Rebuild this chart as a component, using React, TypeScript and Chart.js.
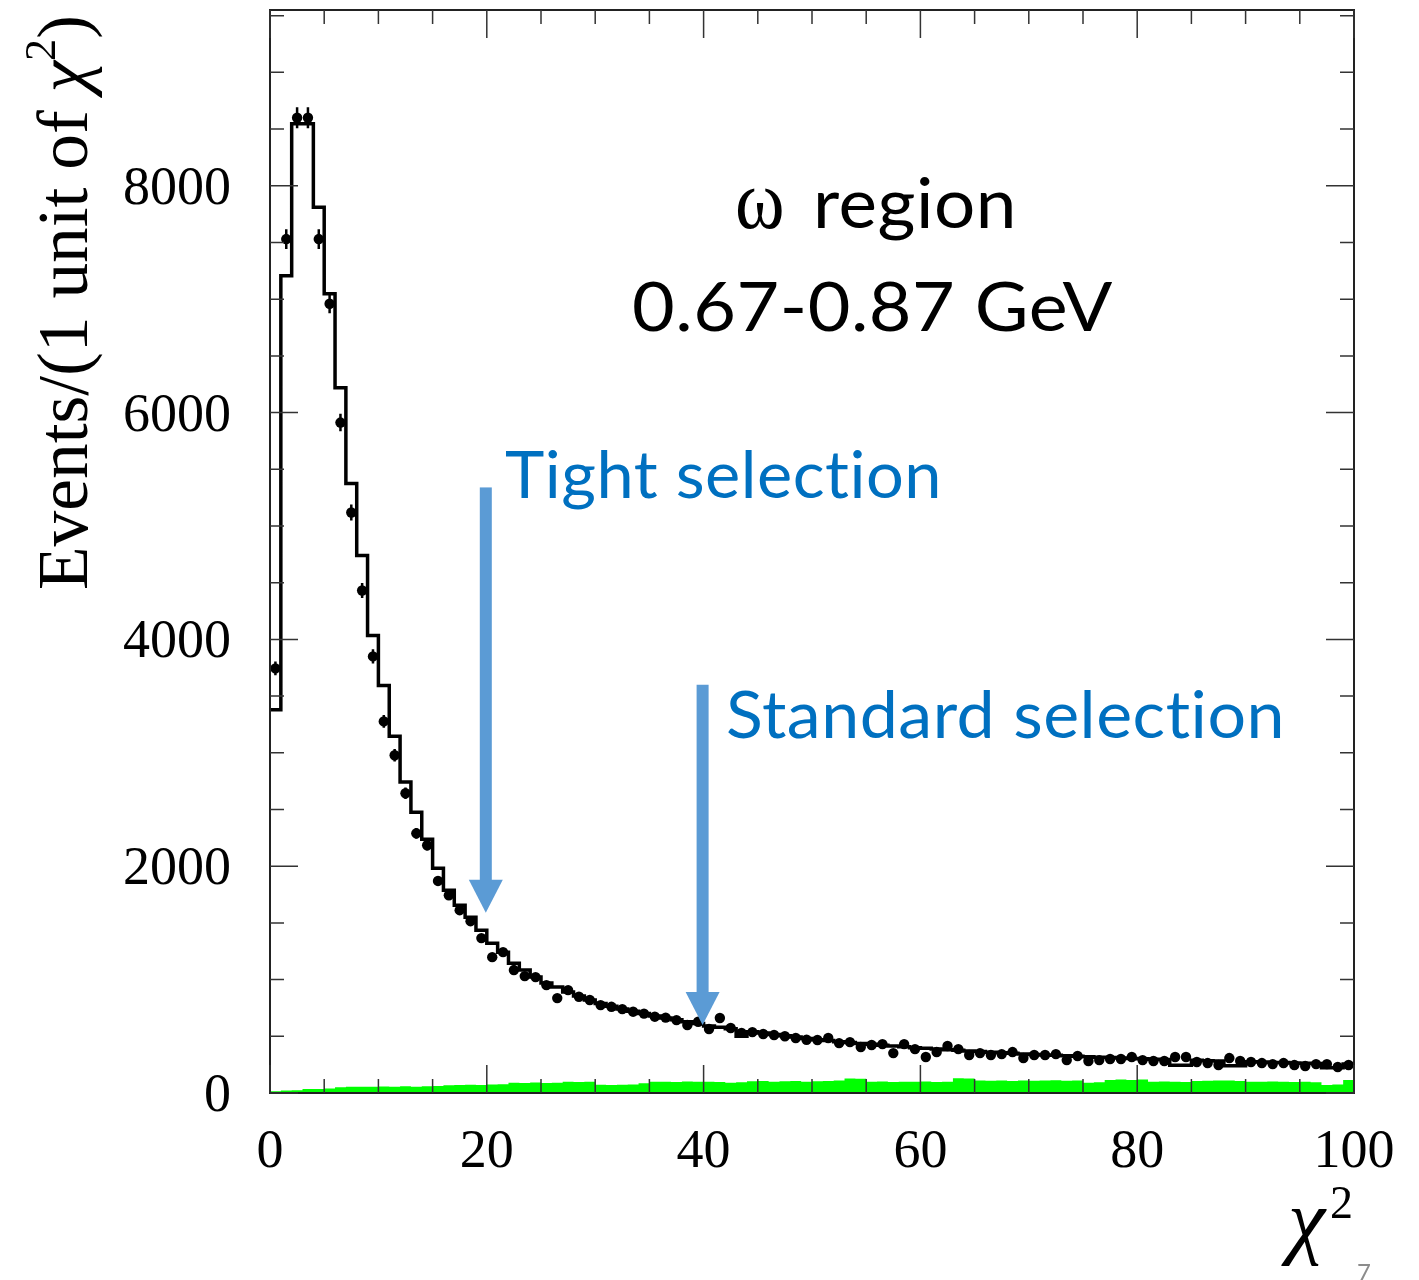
import React, { useEffect, useRef } from 'react';
import { Chart, registerables } from 'chart.js';

Chart.register(...registerables);

// ---------- axis ranges & ticks ----------
const X_MIN = 0;
const X_MAX = 100;
const Y_MIN = 0;
const Y_MAX = 9550;
const X_TICK_LABELS = [0, 20, 40, 60, 80, 100];
const Y_TICK_LABELS = [0, 2000, 4000, 6000, 8000];
const X_MINOR_STEP = 5;
const Y_MINOR_STEP = 500;

// ---------- data (events per 1 unit of chi2, bins 0..99) ----------
const DATA_COUNTS = [
  3744, 7530, 8600, 8600, 7530, 6960, 5912, 5119, 4431, 3850,
  3277, 2978, 2643, 2290, 2185, 1870, 1744, 1612, 1515, 1366,
  1198, 1242, 1084, 1031, 1022, 951, 837, 907, 849, 820,
  775, 760, 740, 717, 700, 673, 665, 643, 599, 628,
  564, 661, 573, 530, 537, 520, 511, 500, 485, 470,
  467, 485, 440, 449, 405, 423, 431, 352, 431, 387,
  317, 361, 414, 387, 335, 352, 335, 343, 361, 308,
  335, 335, 343, 290, 326, 282, 290, 300, 300, 317,
  290, 282, 282, 317, 317, 273, 264, 247, 308, 282,
  273, 264, 255, 264, 247, 238, 255, 255, 229, 247,
];

const MC_COUNTS = [
  3380, 7207, 8546, 8546, 7810, 7048, 6220, 5374, 4740, 4035,
  3594, 3145, 2743, 2476, 2238, 1982, 1788, 1656, 1550, 1436,
  1321, 1242, 1145, 1084, 1022, 969, 934, 890, 855, 820,
  790, 765, 740, 720, 700, 680, 662, 645, 628, 612,
  590, 580, 566, 500, 540, 528, 516, 505, 494, 480,
  470, 462, 452, 445, 437, 430, 422, 415, 408, 400,
  394, 388, 382, 376, 370, 365, 360, 355, 350, 345,
  340, 336, 332, 328, 324, 320, 316, 312, 308, 305,
  302, 298, 295, 245, 245, 288, 285, 282, 240, 240,
  276, 273, 270, 268, 265, 262, 260, 222, 222, 255,
];

const BG_COUNTS = [
  15, 22, 25, 35, 35, 40, 50, 55, 55, 55,
  58, 55, 60, 55, 60, 62, 68, 70, 72, 70,
  75, 78, 90, 88, 92, 88, 90, 100, 98, 100,
  72, 70, 72, 75, 85, 100, 100, 98, 102, 100,
  100, 98, 90, 95, 103, 105, 100, 103, 105, 100,
  103, 105, 110, 128, 125, 100, 102, 98, 100, 100,
  102, 98, 100, 130, 128, 110, 108, 110, 105, 110,
  108, 110, 112, 108, 110, 90, 95, 115, 118, 115,
  118, 100, 102, 100, 98, 105, 108, 110, 110, 105,
  100, 100, 102, 100, 98, 100, 95, 70, 75, 115,
];

// selection cuts (chi2 values) and their labels
const CUT_VALUES = [20, 40];
const CUT_LABELS = ['Tight selection', 'Standard selection'];

const REGION_LABEL = 'region';
const OMEGA = 'ω';
const MASS_LABEL = '0.67-0.87 GeV';
const Y_TITLE_MAIN = 'Events/(1 unit of ';
const CHI = 'χ';

// ---------- helpers ----------
const histPoints = (arr: number[]) => [
  ...arr.map((v, i) => ({ x: i, y: v })),
  { x: arr.length, y: arr[arr.length - 1] },
];

const SERIF = '"Liberation Serif", "Times New Roman", serif';
const SANS = 'Lato, "Open Sans", sans-serif';

function fitText(
  ctx: CanvasRenderingContext2D,
  text: string,
  left: number,
  baseline: number,
  width: number,
  font: string,
  color: string,
) {
  ctx.save();
  (ctx as any).letterSpacing = '0.5px';
  (ctx as any).textRendering = 'optimizeSpeed';
  ctx.font = font;
  const w = ctx.measureText(text).width;
  const s = width / w;
  ctx.translate(left, baseline);
  ctx.scale(s, 1);
  ctx.fillStyle = color;
  ctx.textAlign = 'left';
  ctx.textBaseline = 'alphabetic';
  ctx.fillText(text, 0, 0);
  ctx.restore();
}

const decorPlugin = {
  id: 'decor',
  afterDatasetsDraw(chart: any) {
    const { ctx, scales } = chart;
    const x = scales.x;
    const y = scales.y;
    ctx.save();
    ctx.strokeStyle = '#000';
    ctx.lineWidth = 2.5;
    DATA_COUNTS.forEach((n, i) => {
      const px = x.getPixelForValue(i + 0.5);
      const py = y.getPixelForValue(n);
      const e = Math.sqrt(n);
      ctx.beginPath();
      ctx.moveTo(px, y.getPixelForValue(n - e));
      ctx.lineTo(px, y.getPixelForValue(n + e));
      ctx.moveTo(x.getPixelForValue(i + 0.15), py);
      ctx.lineTo(x.getPixelForValue(i + 0.85), py);
      ctx.stroke();
    });
    ctx.restore();
  },
  afterDraw(chart: any) {
    const { ctx, chartArea: a, scales } = chart;
    const x = scales.x;
    const y = scales.y;
    ctx.save();

    // frame
    ctx.strokeStyle = '#222';
    ctx.lineWidth = 2;
    ctx.strokeRect(a.left, a.top, a.right - a.left, a.bottom - a.top);

    // inner ticks
    ctx.strokeStyle = '#333';
    ctx.lineWidth = 1.5;
    for (let v = X_MIN; v <= X_MAX; v += X_MINOR_STEP) {
      const px = x.getPixelForValue(v);
      const len = X_TICK_LABELS.includes(v) ? 28 : 14;
      ctx.beginPath();
      ctx.moveTo(px, a.bottom);
      ctx.lineTo(px, a.bottom - len);
      ctx.moveTo(px, a.top);
      ctx.lineTo(px, a.top + len);
      ctx.stroke();
    }
    for (let v = Y_MIN; v <= Y_MAX; v += Y_MINOR_STEP) {
      const py = y.getPixelForValue(v);
      const len = Y_TICK_LABELS.includes(v) ? 28 : 14;
      ctx.beginPath();
      ctx.moveTo(a.left, py);
      ctx.lineTo(a.left + len, py);
      ctx.moveTo(a.right, py);
      ctx.lineTo(a.right - len, py);
      ctx.stroke();
    }

    // tick labels
    ctx.fillStyle = '#000';
    ctx.font = `54px ${SERIF}`;
    ctx.textBaseline = 'alphabetic';
    ctx.textAlign = 'right';
    Y_TICK_LABELS.forEach((v) => {
      ctx.fillText(String(v), a.left - 39, y.getPixelForValue(v) + 18);
    });
    ctx.textAlign = 'center';
    X_TICK_LABELS.forEach((v) => {
      ctx.fillText(String(v), x.getPixelForValue(v), a.bottom + 74);
    });

    // y title (rotated)
    {
      const base = 72;
      ctx.font = `${base}px ${SERIF}`;
      const wA = ctx.measureText(Y_TITLE_MAIN).width;
      const wP = ctx.measureText(')').width;
      ctx.font = `italic ${base}px ${SERIF}`;
      const wC = ctx.measureText(CHI).width;
      ctx.font = `${base * 0.62}px ${SERIF}`;
      const w2 = ctx.measureText('2').width;
      const total = wA + wC + w2 + wP;
      const target = 575;
      const s = target / total;
      const size = base * s;
      ctx.save();
      ctx.translate(87, 590);
      ctx.rotate(-Math.PI / 2);
      ctx.textAlign = 'left';
      ctx.fillStyle = '#000';
      let cx = 0;
      ctx.font = `${size}px ${SERIF}`;
      ctx.fillText(Y_TITLE_MAIN, cx, 0);
      cx += wA * s;
      ctx.font = `italic ${size}px ${SERIF}`;
      ctx.fillText(CHI, cx, 0);
      cx += wC * s;
      ctx.font = `${size * 0.62}px ${SERIF}`;
      ctx.fillText('2', cx, -size * 0.45);
      cx += w2 * s;
      ctx.font = `${size}px ${SERIF}`;
      ctx.fillText(')', cx, 0);
      ctx.restore();
    }

    // x title
    ctx.textAlign = 'left';
    ctx.fillStyle = '#000';
    ctx.font = `italic 84px ${SERIF}`;
    ctx.fillText(CHI, 1288, 1248);
    ctx.font = `46px ${SERIF}`;
    ctx.fillText('2', 1330, 1218);

    // slide number
    ctx.fillStyle = '#8c8c8c';
    ctx.font = `24px ${SANS}`;
    ctx.fillText('7', 1357, 1281);

    // annotation text
    fitText(ctx, OMEGA, 735, 228, 50, `84px ${SERIF}`, '#000');
    fitText(ctx, REGION_LABEL, 813, 228, 204, `70px ${SANS}`, '#000');
    fitText(ctx, MASS_LABEL, 632, 331, 481, `68px ${SANS}`, '#000');
    fitText(ctx, CUT_LABELS[0], 505, 498, 437, `66px ${SANS}`, '#0070C0');
    fitText(ctx, CUT_LABELS[1], 726, 738, 559, `66px ${SANS}`, '#0070C0');

    // arrows at the cut values
    const arrowTops = [5340, 3600];
    const arrowTips = [1590, 600];
    ctx.fillStyle = '#5B9BD5';
    CUT_VALUES.forEach((c, i) => {
      const px = x.getPixelForValue(c) - 1;
      const top = y.getPixelForValue(arrowTops[i]);
      const tip = y.getPixelForValue(arrowTips[i]);
      const headH = 33;
      const headW = 17;
      ctx.fillRect(px - 6, top, 12, tip - headH - top + 1);
      ctx.beginPath();
      ctx.moveTo(px - headW, tip - headH);
      ctx.lineTo(px + headW, tip - headH);
      ctx.lineTo(px, tip);
      ctx.closePath();
      ctx.fill();
    });

    ctx.restore();
  },
};

export default function App() {
  const canvasRef = useRef<HTMLCanvasElement | null>(null);

  useEffect(() => {
    document.body.style.margin = '0';
    const canvas = canvasRef.current;
    if (!canvas) return;
    const chart = new Chart(canvas, {
      type: 'line',
      data: {
        datasets: [
          {
            label: 'Data',
            type: 'scatter',
            data: DATA_COUNTS.map((v, i) => ({ x: i + 0.5, y: v })),
            pointRadius: 5.2,
            pointBackgroundColor: '#000',
            pointBorderColor: '#000',
            pointBorderWidth: 0,
            showLine: false,
          },
          {
            label: 'MC',
            data: histPoints(MC_COUNTS),
            stepped: 'before',
            borderColor: '#000',
            borderWidth: 3.5,
            pointRadius: 0,
            fill: false,
          },
          {
            label: 'Background',
            data: histPoints(BG_COUNTS),
            stepped: 'before',
            borderWidth: 0,
            borderColor: 'rgba(0,0,0,0)',
            backgroundColor: '#00ff00',
            pointRadius: 0,
            fill: 'origin',
          },
        ],
      },
      options: {
        animation: false,
        responsive: false,
        devicePixelRatio: 1,
        layout: { padding: { left: 270, top: 10, right: 65, bottom: 187 } },
        plugins: { legend: { display: false }, tooltip: { enabled: false } },
        scales: {
          x: { type: 'linear', min: X_MIN, max: X_MAX, display: false },
          y: { type: 'linear', min: Y_MIN, max: Y_MAX, display: false },
        },
      },
      plugins: [decorPlugin],
    } as any);
    return () => chart.destroy();
  }, []);

  return (
    <div style={{ width: 1419, height: 1280, background: '#fff' }}>
      <canvas ref={canvasRef} width={1419} height={1280} style={{ display: 'block' }} />
    </div>
  );
}
